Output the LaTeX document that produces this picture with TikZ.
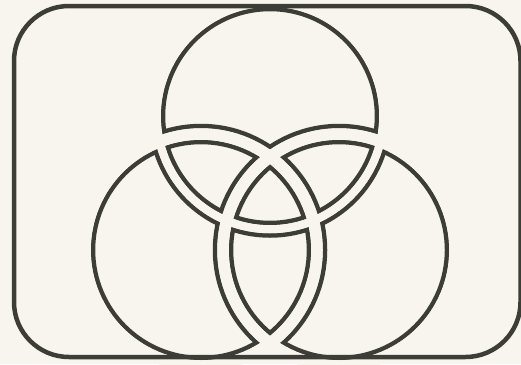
\documentclass[tikz,border=0pt]{standalone}
\definecolor{bg}{RGB}{247,245,237}
\definecolor{ink}{RGB}{61,61,56}
\tikzset{
  frame/.style={draw=ink, line width=4.5pt, rounded corners=55pt},
  inkT/.style={draw=ink, line width=17pt},
  gapT/.style={draw=bg, line width=8pt},
  inkLR/.style={draw=ink, line width=20.5pt},
  gapLR/.style={draw=bg, line width=11.5pt}
}
\begin{document}
\begin{tikzpicture}[x=1pt,y=-1pt]
\useasboundingbox (0,0) rectangle (521,364);
\fill[bg] (0,0) rectangle (521,364);
\coordinate (cT) at (270,116);
\coordinate (cL) at (201,250);
\coordinate (cR) at (339,250);
\begin{scope}
  \clip (cT) circle (113.25pt) (cL) circle (116pt) (cR) circle (116pt);
  \path[inkT] (cT) circle (113.25pt);
  \path[inkLR] (cL) circle (116pt);
  \path[inkLR] (cR) circle (116pt);
  \path[gapT] (cT) circle (113.25pt);
  \path[gapLR] (cL) circle (116pt);
  \path[gapLR] (cR) circle (116pt);
\end{scope}
\path[gapT] (cT) circle (113.25pt);
\path[gapLR] (cL) circle (116pt);
\path[gapLR] (cR) circle (116pt);
\draw[frame] (14,6) rectangle (520.5,357);
\end{tikzpicture}
\end{document}
